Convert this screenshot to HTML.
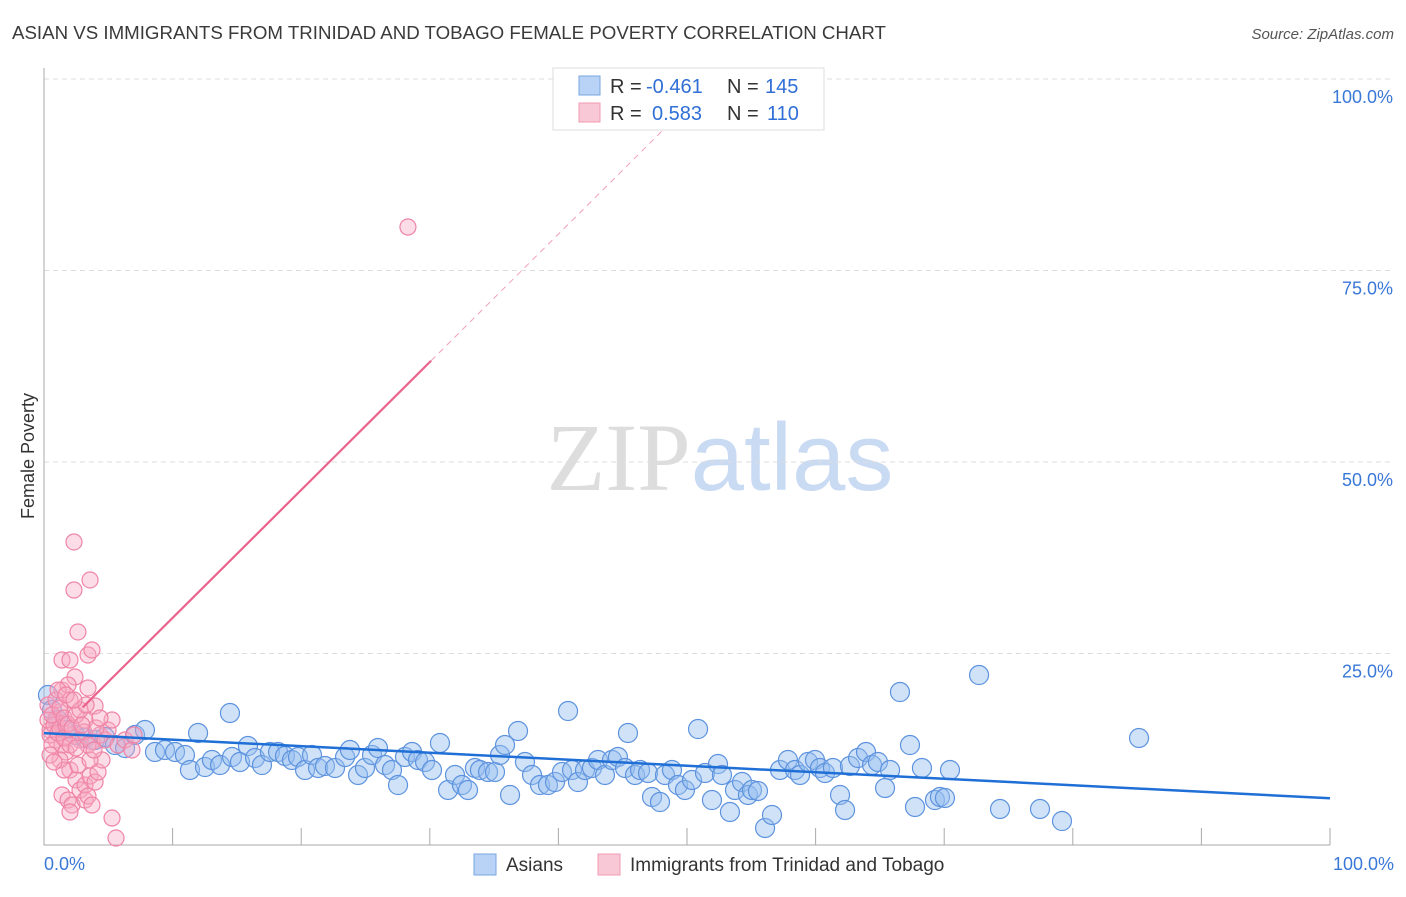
<!DOCTYPE html>
<html><head><meta charset="utf-8"><style>
body{margin:0;background:#fff;font-family:"Liberation Sans",sans-serif}
svg text{font-family:"Liberation Sans",sans-serif}
</style></head><body>
<svg id="c" width="1406" height="892" xmlns="http://www.w3.org/2000/svg">
<text x="12" y="39" font-size="18.7" fill="#3a3a3a">ASIAN VS IMMIGRANTS FROM TRINIDAD AND TOBAGO FEMALE POVERTY CORRELATION CHART</text>
<text x="1394" y="39" font-size="15" fill="#555" text-anchor="end" font-style="italic">Source: ZipAtlas.com</text>
<text x="34" y="456" font-size="18" fill="#333" transform="rotate(-90 34 456)" text-anchor="middle">Female Poverty</text>
<text x="720" y="490" font-size="96" text-anchor="middle"><tspan fill="#ddd" font-family="Liberation Serif">ZIP</tspan><tspan fill="#c9daf3">atlas</tspan></text>
<g id="grid"></g><g id="pts"></g><g id="lines"></g>
<g>
<rect x="553" y="68" width="271" height="62" fill="#fff" stroke="#ddd"/>
<rect x="579" y="76" width="21" height="19" fill="#b8d3f5" stroke="#7aa7e0"/>
<rect x="579" y="103" width="21" height="19" fill="#f9c8d6" stroke="#f09ab3"/>
<text x="610" y="93" font-size="20" fill="#333">R =</text>
<text x="646" y="93" font-size="20" fill="#2f6fd6">-0.461</text>
<text x="727" y="93" font-size="20" fill="#333">N =</text>
<text x="765" y="93" font-size="20" fill="#2f6fd6">145</text>
<text x="610" y="120" font-size="20" fill="#333">R =</text>
<text x="652" y="120" font-size="20" fill="#2f6fd6">0.583</text>
<text x="727" y="120" font-size="20" fill="#333">N =</text>
<text x="767" y="120" font-size="20" fill="#2f6fd6">110</text>
</g>
<g>
<rect x="474" y="854" width="22" height="21" fill="#b8d3f5" stroke="#7aa7e0"/>
<text x="506" y="871" font-size="19" fill="#333">Asians</text>
<rect x="598" y="854" width="22" height="21" fill="#f9c8d6" stroke="#f09ab3"/>
<text x="630" y="871" font-size="19" fill="#333">Immigrants from Trinidad and Tobago</text>
</g>
</svg>
<script>
const NS="http://www.w3.org/2000/svg";
const yTicks=[25,50,75,100];
const yTickLabels=["25.0%","50.0%","75.0%","100.0%"];
const xTickLabels=["0.0%","100.0%"];
const bluePx=[[48,695],[52,710],[58,720],[65,730],[75,735],[85,738],[95,740],[105,737],[115,745],[125,748],[135,735],[145,730],[155,752],[165,750],[175,752],[185,755],[190,770],[198,733],[205,767],[212,760],[220,765],[230,713],[232,757],[240,762],[248,746],[255,758],[262,765],[270,752],[278,752],[285,756],[292,760],[298,757],[305,770],[312,755],[318,768],[325,766],[335,768],[345,757],[350,750],[358,775],[365,768],[372,755],[378,748],[385,765],[392,770],[398,785],[405,757],[412,752],[418,760],[425,762],[432,770],[440,743],[448,790],[455,775],[462,785],[468,790],[475,768],[480,770],[488,772],[495,772],[500,755],[505,745],[510,795],[518,731],[525,762],[532,775],[540,785],[548,785],[555,782],[562,772],[568,711],[572,770],[578,782],[585,770],[592,768],[598,760],[605,775],[612,760],[618,757],[625,768],[628,733],[635,775],[640,770],[648,773],[652,797],[660,802],[665,775],[672,770],[678,785],[685,790],[692,780],[698,729],[705,773],[712,800],[718,764],[722,775],[730,812],[735,790],[742,782],[748,795],[752,790],[758,791],[765,828],[772,815],[780,770],[788,760],[795,770],[800,775],[808,762],[815,760],[820,768],[825,773],[833,768],[840,795],[845,810],[850,766],[858,758],[866,752],[872,765],[878,762],[885,788],[890,770],[900,692],[910,745],[915,807],[922,768],[935,800],[940,797],[945,798],[950,770],[1000,809],[1040,809],[1062,821],[979,675],[1139,738]];
const pinkPx=[[74,542],[74,590],[90,580],[78,632],[62,660],[70,660],[88,655],[92,650],[75,677],[62,690],[68,685],[88,688],[95,706],[70,700],[60,712],[55,720],[50,730],[56,740],[62,745],[66,752],[72,735],[80,740],[85,720],[92,742],[100,735],[105,740],[108,730],[112,720],[118,745],[125,740],[132,750],[134,735],[70,770],[76,780],[80,790],[85,785],[90,776],[95,782],[98,772],[62,795],[68,800],[72,805],[85,800],[88,796],[92,805],[70,812],[112,818],[116,838],[408,227],[48,720],[50,735],[52,745],[54,725],[58,733],[60,728],[64,738],[66,725],[48,705],[52,715],[56,700],[60,708],[64,718],[68,724],[72,728],[76,715],[80,710],[84,732],[88,745],[96,728],[100,718],[102,760],[60,760],[64,770],[78,765],[82,725],[86,705],[58,690],[66,695],[74,700],[90,760],[94,750],[70,745],[76,748],[50,755],[54,762]];
const asianX=bluePx.map(p=>+((p[0]-44)/12.86).toFixed(2));
const asianY=bluePx.map(p=>+((845-p[1])/7.66).toFixed(2));
const ttX=pinkPx.map(p=>+((p[0]-44)/12.86).toFixed(2));
const ttY=pinkPx.map(p=>+((845-p[1])/7.66).toFixed(2));
const asianFit=[14.6,6.1];
const ttFit=[12.95,1.67];
const X=v=>44+v*12.86, Y=v=>845-v*7.66;
function el(t,a,p){const e=document.createElementNS(NS,t);for(const k in a)e.setAttribute(k,a[k]);p.appendChild(e);return e;}
const g=document.getElementById('grid');
yTicks.forEach((t,i)=>{
 const l=el('line',{x1:44,x2:1394,y1:Y(t),y2:Y(t),stroke:'#ddd','stroke-dasharray':'5,4'},g);
 
 
 const tx=el('text',{x:1393,y:Y(t)+24,'font-size':18,fill:'#3a78d8','text-anchor':'end'},g);
 tx.textContent=yTickLabels[i];
 
 
});
const ax=el('path',{d:'M44 68V845H1330',stroke:'#aaa',fill:'none'},g);


for(let i=1;i<=10;i++){const t=el('line',{x1:X(i*10),x2:X(i*10),y1:828,y2:845,stroke:'#aaa'},g);
 
 }
[[44,'start',0],[1394,'end',1]].forEach(a=>{const t=el('text',{x:a[0],y:870,'font-size':18,fill:'#3a78d8','text-anchor':a[1]},g);t.textContent=xTickLabels[a[2]];
 
 });
const pg=document.getElementById('pts');
asianX.forEach((x,i)=>{const c=el('circle',{cx:X(x),cy:Y(asianY[i]),r:9.5,fill:'rgba(150,190,240,0.45)',stroke:'#5d93de','stroke-width':1.2},pg);
 
 });
ttX.forEach((x,i)=>{const c=el('circle',{cx:X(x),cy:Y(ttY[i]),r:8,fill:'rgba(248,170,195,0.4)',stroke:'#ef84a6','stroke-width':1.2},pg);
 
 });
const lg=document.getElementById('lines');
const bl=el('line',{x1:X(0),y1:Y(asianFit[0]),x2:X(100),y2:Y(asianFit[1]),stroke:'#1f6fd6','stroke-width':2.5},lg);


const f=x=>ttFit[0]+ttFit[1]*x;
const pl=el('line',{x1:X(3),y1:Y(f(3)),x2:X(30.1),y2:Y(f(30.1)),stroke:'#e9638d','stroke-width':2.2},lg);


const xe=(100-ttFit[0])/ttFit[1];
const pd=el('line',{x1:X(30.1),y1:Y(f(30.1)),x2:X(xe),y2:Y(100),stroke:'#f0a0b8','stroke-width':1,'stroke-dasharray':'6,5'},lg);


</script>
</body></html>
